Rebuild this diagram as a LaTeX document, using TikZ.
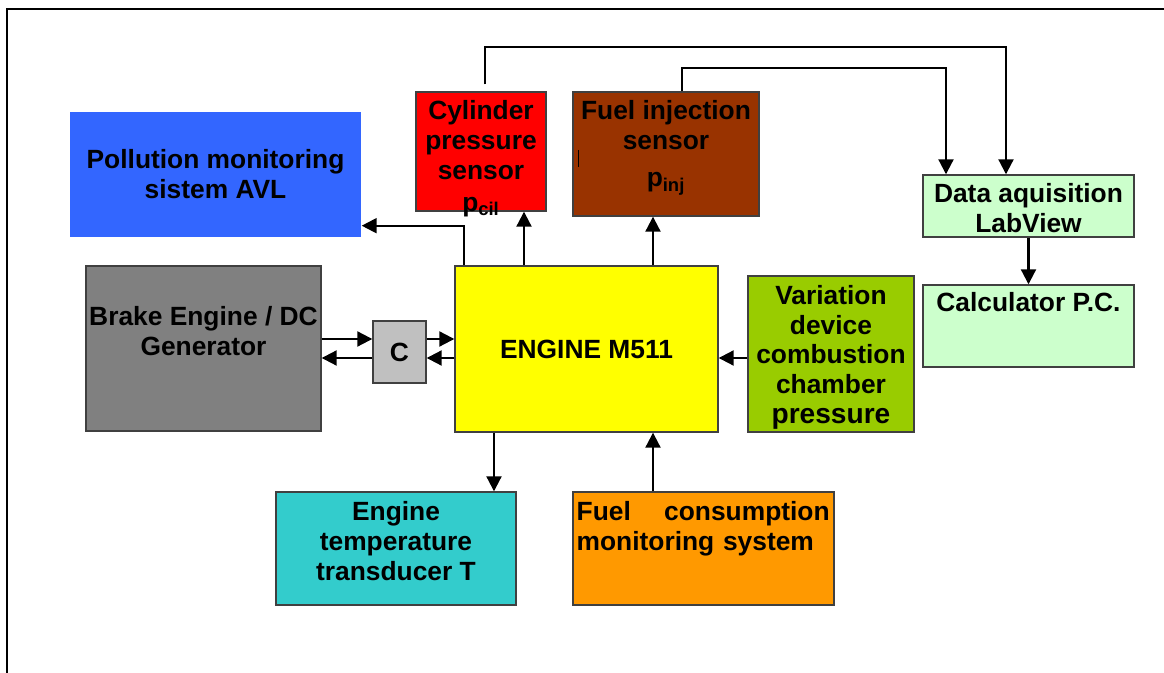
\documentclass[tikz,border=0pt]{standalone}
\usepackage{fontspec}
\setmainfont{Liberation Sans}
\usetikzlibrary{arrows.meta,positioning,calc}
\definecolor{polc}{RGB}{51,102,255}
\definecolor{cylc}{RGB}{255,0,0}
\definecolor{injc}{RGB}{153,51,0}
\definecolor{daqc}{RGB}{204,255,204}
\definecolor{brkc}{RGB}{128,128,128}
\definecolor{cplc}{RGB}{192,192,192}
\definecolor{engc}{RGB}{255,255,0}
\definecolor{varc}{RGB}{153,204,0}
\definecolor{tmpc}{RGB}{51,204,204}
\definecolor{fuec}{RGB}{255,153,0}
\tikzset{bx/.style={draw=black!75,line width=.8pt,inner sep=0pt},
 tx/.style={align=center,anchor=north,inner sep=0pt},
 arr/.style={-{Triangle[length=3mm,width=3mm]},line width=1.2pt},
 every node/.style={font=\bfseries\fontsize{15}{17}\selectfont}}
\begin{document}
\begin{tikzpicture}[x=1cm,y=1cm]
\useasboundingbox (0,0) rectangle (23.28,-13.46);
\draw[line width=1.1pt] (0.14,-14) |- (24,-0.18);
\node[bx,draw=none,fill=polc,minimum width=5.82cm,minimum height=2.5cm,align=center] (poll) at (4.31,-3.49) {Pollution monitoring\\sistem AVL};
\node[bx,fill=cylc,minimum width=2.6cm,minimum height=2.38cm] (cyl) at (9.62,-3.03) {};
\node[tx] (cylt) at ([yshift=-0.18cm]cyl.north) {Cylinder\\pressure\\sensor\\[1pt]p\textsubscript{cil}};
\node[bx,fill=injc,minimum width=3.72cm,minimum height=2.48cm] (inj) at (13.32,-3.08) {};
\node[tx] (injt) at ([yshift=-0.18cm]inj.north) {Fuel injection\\sensor\\[4pt]p\textsubscript{inj}};
\node[bx,fill=daqc,minimum width=4.22cm,minimum height=1.24cm] (daq) at (20.57,-4.12) {};
\node[tx] (daqt) at ([yshift=-0.17cm]daq.north) {Data aquisition\\LabView};
\node[bx,fill=daqc,minimum width=4.22cm,minimum height=1.64cm] (pc) at (20.57,-6.52) {};
\node[tx] (pct) at ([yshift=-0.15cm]pc.north) {Calculator P.C.};
\node[bx,fill=brkc,minimum width=4.7cm,minimum height=3.3cm] (brake) at (4.07,-6.97) {};
\node[tx] (braket) at ([yshift=-0.82cm]brake.north) {Brake Engine / DC\\Generator};
\node[bx,fill=cplc,minimum width=1.06cm,minimum height=1.24cm] (cc) at (7.99,-7.04) {C};
\node[bx,fill=engc,minimum width=5.26cm,minimum height=3.32cm] (eng) at (11.73,-6.98) {ENGINE M511};
\node[bx,fill=varc,minimum width=3.32cm,minimum height=3.12cm] (var) at (16.62,-7.08) {};
\node[tx] (vart) at ([yshift=-0.19cm]var.north) {Variation\\device\\combustion\\chamber\\{\fontsize{16}{18}\selectfont pressure}};
\node[bx,fill=tmpc,minimum width=4.8cm,minimum height=2.26cm] (temp) at (7.92,-10.97) {};
\node[tx] (tempt) at ([yshift=-0.2cm]temp.north) {Engine\\temperature\\transducer T};
\node[bx,fill=fuec,minimum width=5.22cm,minimum height=2.26cm] (fuel) at (14.07,-10.97) {};
\node[tx,anchor=north west,align=left,text width=5.06cm] (fuelt) at ([xshift=0.08cm,yshift=-0.2cm]fuel.north west) {Fuel\hfill consumption\\monitoring system};
\draw[line width=.8pt] ([xshift=0.12cm,yshift=0.08cm]inj.west) -- ([xshift=0.12cm,yshift=-0.26cm]inj.west);
\coordinate (hi) at ([yshift=0.26cm]cc.center);
\coordinate (lo) at ([yshift=-0.12cm]cc.center);
\draw[arr] (brake.east |- hi) -- (cc.west |- hi);
\draw[arr] (cc.west |- lo) -- (brake.east |- lo);
\draw[arr] (cc.east |- hi) -- (eng.west |- hi);
\draw[arr] (eng.west |- lo) -- (cc.east |- lo);
\draw[arr] ([yshift=-0.08cm]var.west) -- ([yshift=-0.08cm]var.west -| eng.east);
\draw[arr] ([xshift=0.2cm]eng.north west) |- ([yshift=0.24cm]poll.south east);
\coordinate (cylin) at ([xshift=0.86cm]cyl.south);
\draw[arr] (eng.north -| cylin) -- (cylin);
\coordinate (injin) at ([xshift=-0.26cm]inj.south);
\draw[arr] (eng.north -| injin) -- (injin);
\coordinate (tmpin) at ([xshift=1.96cm]temp.north);
\draw[arr] (eng.south -| tmpin) -- (tmpin);
\coordinate (fueout) at ([xshift=-1.01cm]fuel.north);
\draw[arr] (fueout) -- (eng.south -| fueout);
\coordinate (busa) at ([xshift=0.08cm,yshift=0.88cm]cyl.north);
\draw[arr] ([xshift=0.08cm,yshift=0.14cm]cyl.north) -- (busa) -| ([xshift=-0.45cm]daq.north);
\coordinate (busb) at ([xshift=0.32cm,yshift=0.46cm]inj.north);
\draw[arr] ([xshift=0.32cm]inj.north) -- (busb) -| ([xshift=-1.65cm]daq.north);
\draw[arr] (daq) -- (pc);
\end{tikzpicture}
\end{document}
